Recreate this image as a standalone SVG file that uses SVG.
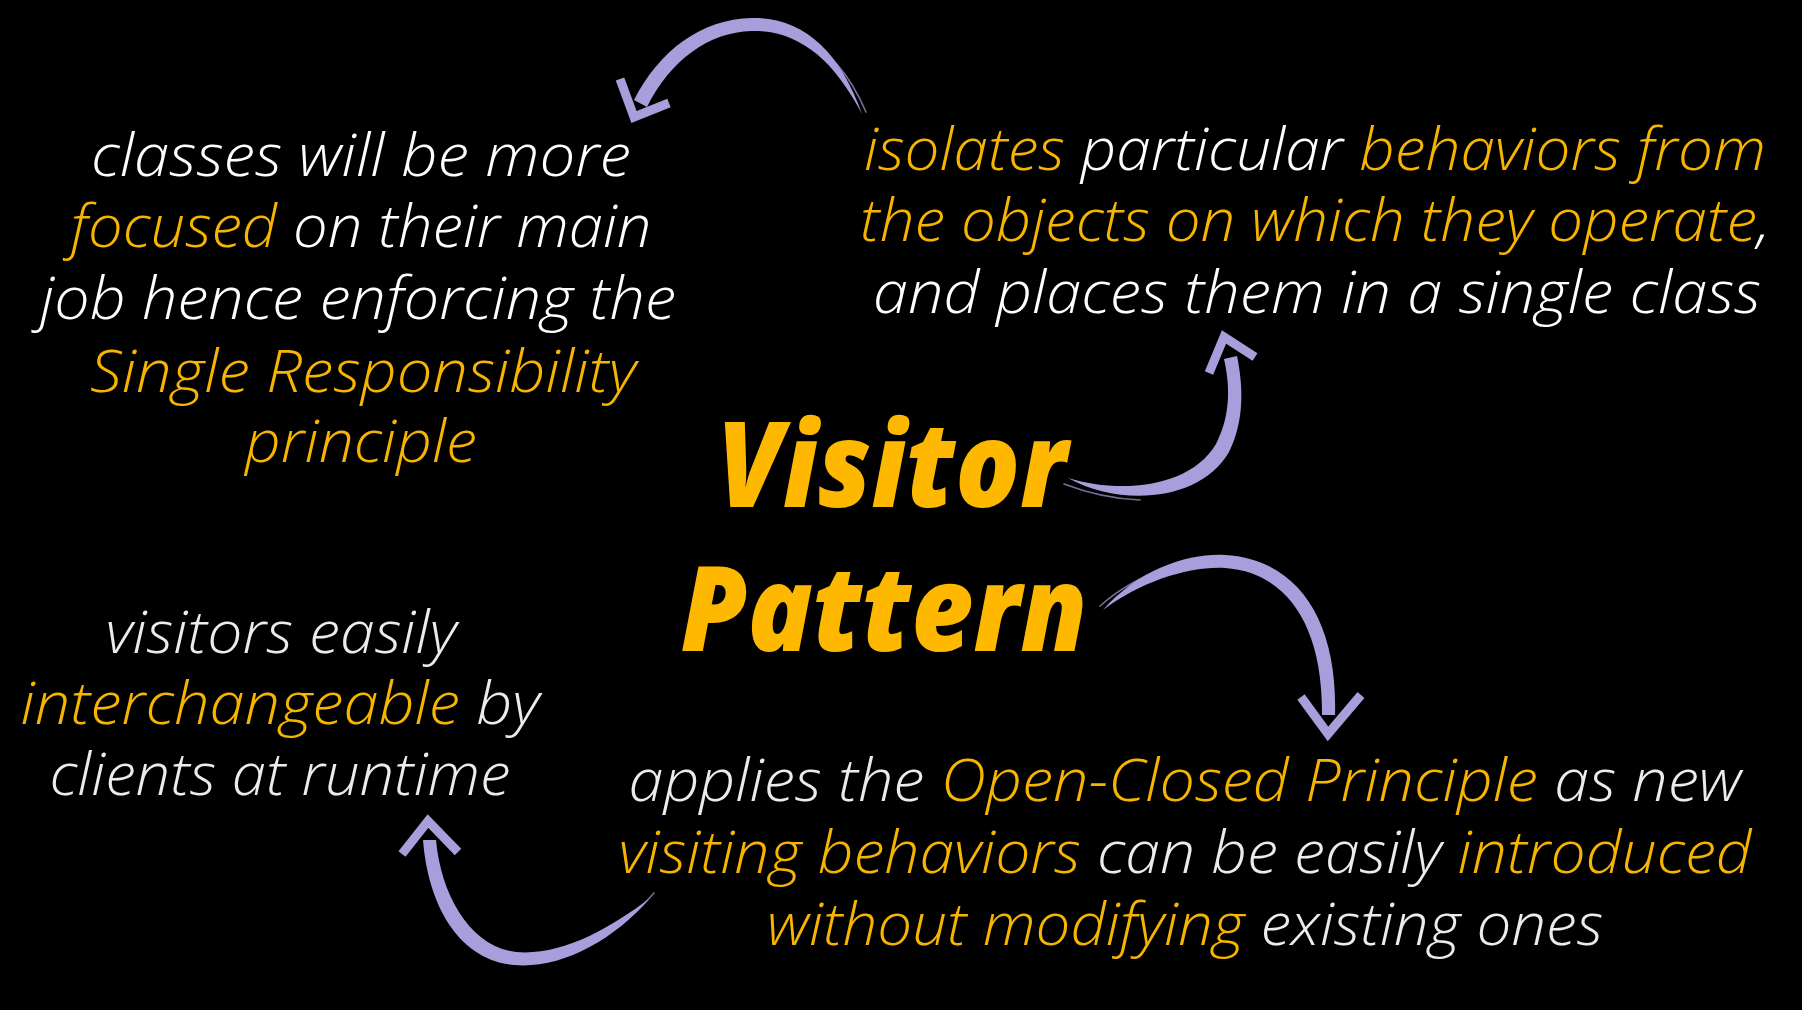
<svg xmlns="http://www.w3.org/2000/svg" width="1802" height="1010" viewBox="0 0 1802 1010">
  <style>
    .body { font-family: "Open Sans", "Lato", "Liberation Sans", sans-serif; font-style: italic; font-weight: 300; font-size: 58px; fill: #ffffff; }
    .soft { fill: #ececec; }
    .hl { fill: #f7b500; }
    .title { font-family: "Open Sans", "Lato", "Liberation Sans", sans-serif; font-style: italic; font-weight: 800; font-size: 118px; fill: #ffb800; }
    .shaft { fill: #a79edb; }
    .streak { fill: none; stroke: #a79edb; stroke-width: 1.6; stroke-linecap: round; opacity: 0.7; }
    .head { fill: none; stroke: #a79edb; stroke-width: 9; stroke-linejoin: miter; stroke-linecap: butt; }
  </style>

  <rect width="1802" height="1010" fill="#000000"/>

  <!-- central title -->
  <g id="title">
    <text class="title" x="892" y="507" text-anchor="middle" textLength="350" lengthAdjust="spacingAndGlyphs">Visitor</text>
    <text class="title" x="884" y="651" text-anchor="middle" textLength="407" lengthAdjust="spacingAndGlyphs">Pattern</text>
  </g>

  <!-- top-left statement -->
  <g id="single-responsibility" class="body">
    <text x="361" y="176" text-anchor="middle" textLength="540" lengthAdjust="spacingAndGlyphs">classes will be more</text>
    <text x="361" y="247" text-anchor="middle" textLength="581" lengthAdjust="spacingAndGlyphs"><tspan class="hl">focused</tspan> on their main</text>
    <text x="358" y="319" text-anchor="middle" textLength="636" lengthAdjust="spacingAndGlyphs">job hence enforcing the</text>
    <text class="hl" x="363" y="392" text-anchor="middle" textLength="546" lengthAdjust="spacingAndGlyphs">Single Responsibility</text>
    <text class="hl" x="361" y="462" text-anchor="middle" textLength="232" lengthAdjust="spacingAndGlyphs">principle</text>
  </g>

  <!-- top-right statement -->
  <g id="isolates-behaviors" class="body">
    <text x="1315" y="170" text-anchor="middle" textLength="902" lengthAdjust="spacingAndGlyphs"><tspan class="hl">isolates</tspan> particular <tspan class="hl">behaviors from</tspan></text>
    <text x="1315" y="241" text-anchor="middle" textLength="910" lengthAdjust="spacingAndGlyphs"><tspan class="hl">the objects on which they operate</tspan>,</text>
    <text x="1317" y="313" text-anchor="middle" textLength="888" lengthAdjust="spacingAndGlyphs">and places them in a single class</text>
  </g>

  <!-- bottom-left statement -->
  <g id="interchangeable" class="body">
    <text class="soft" x="281" y="653" text-anchor="middle" textLength="351" lengthAdjust="spacingAndGlyphs">visitors easily</text>
    <text class="soft" x="280" y="724" text-anchor="middle" textLength="519" lengthAdjust="spacingAndGlyphs"><tspan class="hl">interchangeable</tspan> by</text>
    <text class="soft" x="280" y="795" text-anchor="middle" textLength="461" lengthAdjust="spacingAndGlyphs">clients at runtime</text>
  </g>

  <!-- bottom-right statement -->
  <g id="open-closed" class="body">
    <text class="soft" x="1185" y="801" text-anchor="middle" textLength="1113" lengthAdjust="spacingAndGlyphs">applies the <tspan class="hl">Open-Closed Principle</tspan> as new</text>
    <text class="soft" x="1185" y="873" text-anchor="middle" textLength="1133" lengthAdjust="spacingAndGlyphs"><tspan class="hl">visiting behaviors</tspan> can be easily <tspan class="hl">introduced</tspan></text>
    <text class="soft" x="1185" y="945" text-anchor="middle" textLength="836" lengthAdjust="spacingAndGlyphs"><tspan class="hl">without modifying</tspan> existing ones</text>
  </g>

  <!-- brush-stroke arrows -->
  <g id="connectors">
    <!-- top: isolates -> single responsibility -->
    <g id="arrow-top">
      <path class="shaft" d="M862,114 C839,48 800,17 752,18 C701,19 659,51 634,100 L647,107 C670,61 708,32 752,31 C797,30 833,58 862,114 Z"/>
      <path class="streak" d="M866,112 C848,70 826,48 800,36"/>
      <polyline class="head" points="620,79 634,117 669,103"/>
    </g>
    <!-- middle-right: title -> isolates -->
    <g id="arrow-up-right">
      <path class="shaft" d="M1068,478 C1120,507 1200,502 1229,452 C1245,420 1243,385 1237,356 L1224,359 C1230,385 1231,415 1216,444 C1190,488 1120,494 1068,478 Z"/>
      <path class="streak" d="M1064,484 C1090,494 1115,499 1140,500"/>
      <polyline class="head" points="1209,373 1224,337 1255,357"/>
    </g>
    <!-- lower-right: title -> open-closed -->
    <g id="arrow-down-right">
      <path class="shaft" d="M1103,610 C1140,568 1190,553 1225,555 C1296,559 1338,618 1335,715 L1322,715 C1323,623 1285,572 1225,568 C1190,566 1142,581 1103,610 Z"/>
      <path class="streak" d="M1100,606 C1120,588 1145,575 1170,566"/>
      <polyline class="head" points="1301,697 1328,734 1361,695"/>
    </g>
    <!-- bottom: open-closed -> interchangeable -->
    <g id="arrow-bottom">
      <path class="shaft" d="M650,898 C612,942 560,969 514,965 C458,960 428,904 423,840 L436,840 C441,896 471,947 516,952 C560,956 608,930 650,898 Z"/>
      <path class="streak" d="M654,893 C635,915 610,935 585,947"/>
      <polyline class="head" points="402,854 428,821 458,852"/>
    </g>
  </g>
</svg>
